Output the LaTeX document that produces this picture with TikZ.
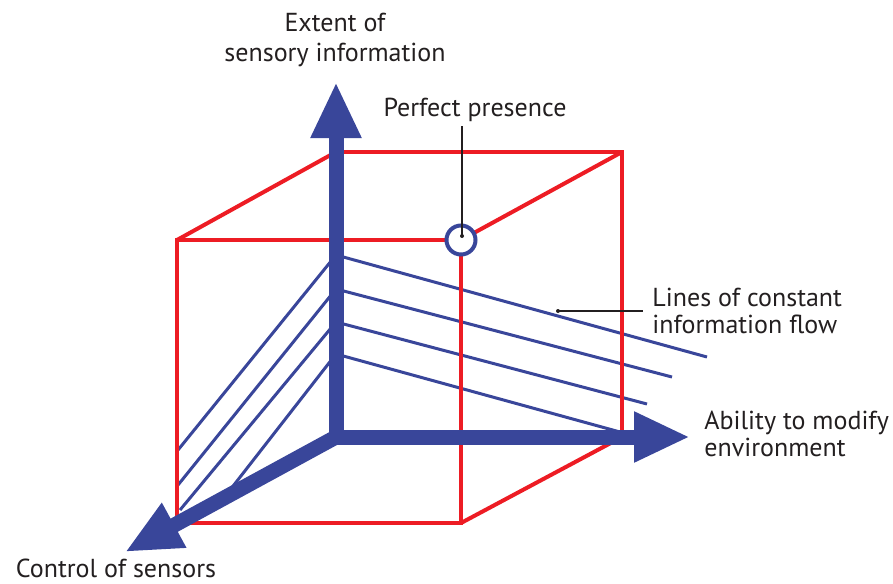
\documentclass[tikz,border=0pt]{standalone}
\usepackage{fontspec}
\setmainfont{PT Sans}
\usetikzlibrary{arrows.meta}
\definecolor{cubered}{RGB}{237,28,36}
\definecolor{axisblue}{RGB}{57,70,154}
\definecolor{labelgray}{RGB}{35,31,32}
\tikzset{
  bigtip/.tip={Triangle[length=28pt, width=23.5pt]},
  edge/.style={cubered, line width=2pt},
  infoline/.style={axisblue, line width=1.5pt},
  axis/.style={axisblue, line width=7.5pt, line join=miter},
  leader/.style={labelgray, line width=0.6pt},
  lbl/.style={text=labelgray, font=\fontsize{13}{13.5}\selectfont, inner sep=0pt}
}
\begin{document}
\begin{tikzpicture}[x=0.5pt, y=-0.5pt]
    \useasboundingbox (0,0) rectangle (893,583);
    % cube corners
    \coordinate (O) at (336,437);
    \coordinate (A) at (622,437);
    \coordinate (B) at (622,152);
    \coordinate (C) at (336,152);
    \coordinate (D) at (177,240);
    \coordinate (E) at (461,240);
    \coordinate (F) at (461,523);
    \coordinate (G) at (177,523);
    % lines of constant information flow
    \foreach \y/\lx/\ly/\rx/\ry in {255/178/450/707/357, 289/178/485/672/377,
        322/180/510/647/404, 354/223/499/620/432}
      \draw[infoline] (\lx,\ly) -- (336,\y) -- (\rx,\ry);
    % the cube
    \draw[edge] (D) rectangle (F);
    \draw[edge] (O) -- (A) -- (B) -- (C) -- cycle;
    \draw[edge] (D) -- (C) (E) -- (B) (F) -- (A) (G) -- (O);
    % axes
    \draw[axis, bigtip-bigtip] (336,82) -- (O) -- (690,437);
    \draw[axis, -bigtip] (O) -- (125,552);
    % perfect presence
    \draw[axisblue, line width=2pt, fill=white] (E) circle (14.5);
    \coordinate (pdot) at (462,236);
    \coordinate (fdot) at (558,311);
    \node[lbl] (perfect) at (475,110) {Perfect presence};
    \node[lbl, align=center, font=\fontsize{13}{15}\selectfont] (extent) at (335,40) {Extent of\\sensory information};
    \node[lbl, align=left, anchor=west] (flow) at (652,311) {Lines of constant\\information flow};
    \node[lbl, align=left, anchor=west] (ability) at (704,434) {Ability to modify\\environment};
    \node[lbl, anchor=base] (control) at (116,577) {Control of sensors};
    \fill[labelgray] (pdot) circle (2);
    \fill[labelgray] (fdot) circle (2);
    \draw[leader] (pdot) -- ([yshift=-2pt]perfect.south -| pdot);
    \draw[leader] (fdot) -- ([xshift=-4.5pt]flow.west |- fdot);
\end{tikzpicture}
\end{document}
